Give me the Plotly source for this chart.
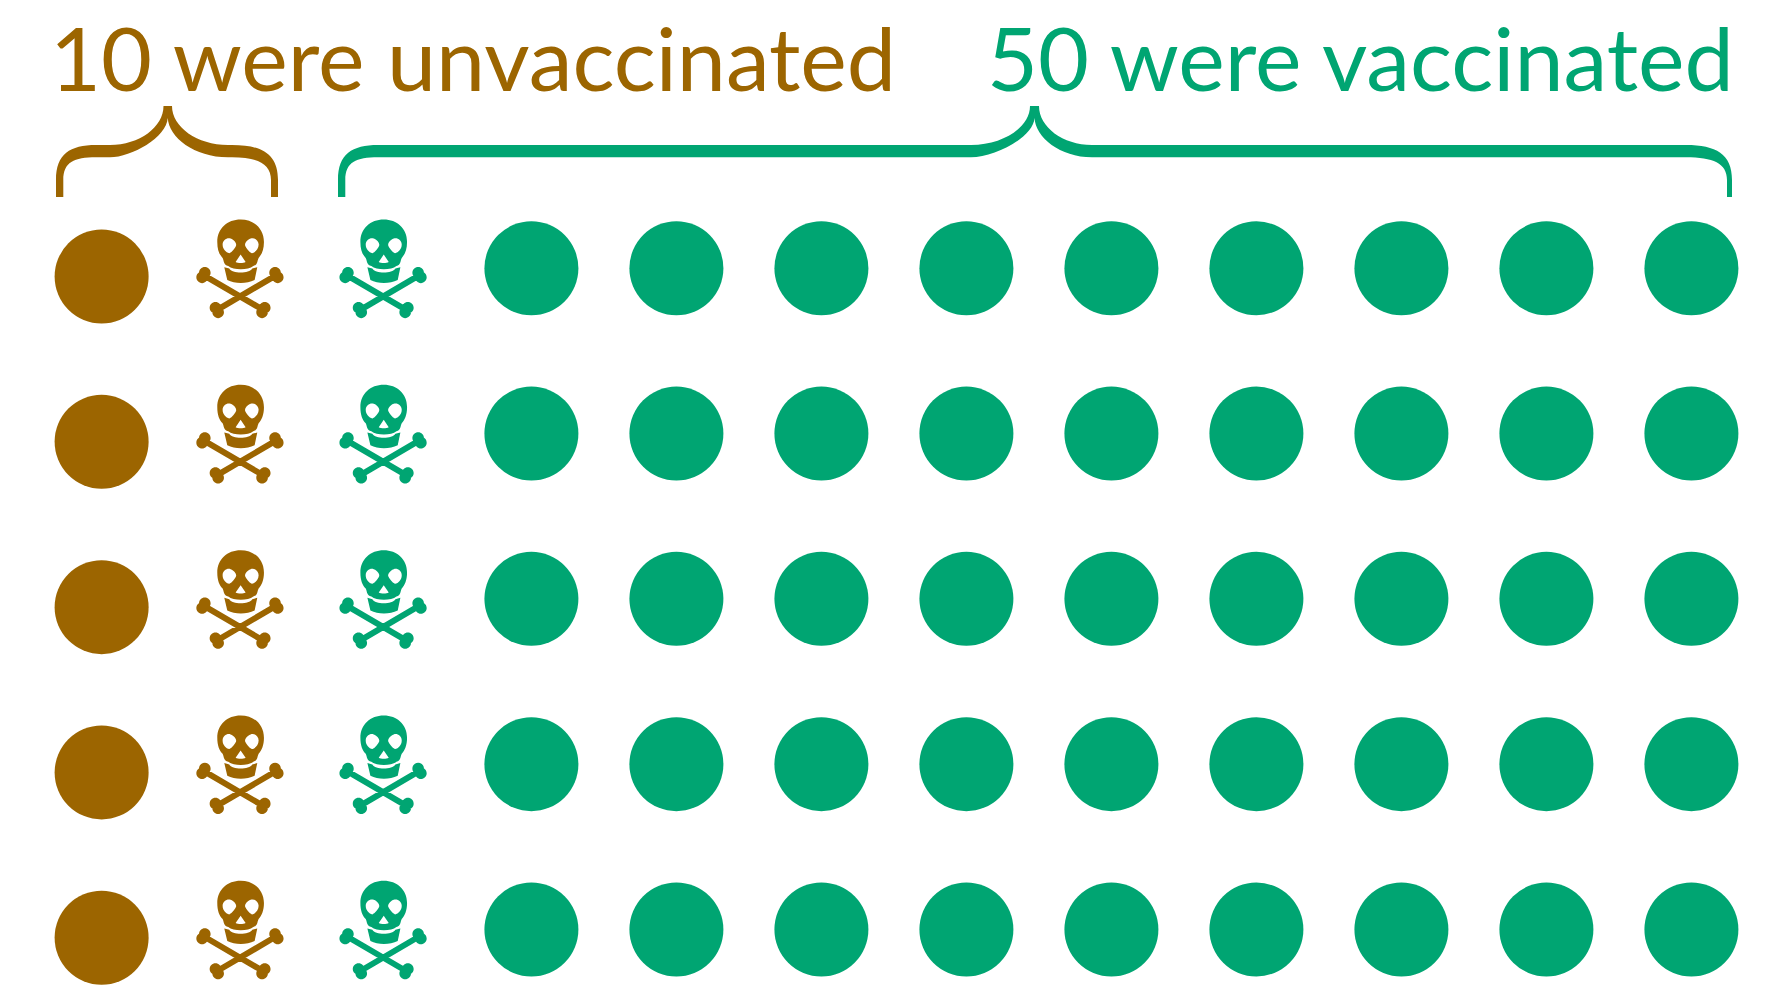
import re
import plotly.graph_objects as go

BROWN = "#9C6500"
GREEN = "#00A572"
W, H = 1790, 1006

rows = [0, 1, 2, 3, 4]
green_cols = [3, 4, 5, 6, 7, 8, 9, 10, 11]
brown_col = 0.036
brown_row_shift = 0.05
brown_skull_col = 0.99
green_skull_col = 1.977
skull_row_shift = 0.155
title_left = "10 were unvaccinated"
title_right = "50 were vaccinated"


def circle(cx, cy, r):
    k = 0.5523 * r
    return (f"M{cx+r:.2f},{cy:.2f} C{cx+r:.2f},{cy+k:.2f} {cx+k:.2f},{cy+r:.2f} {cx:.2f},{cy+r:.2f} "
            f"C{cx-k:.2f},{cy+r:.2f} {cx-r:.2f},{cy+k:.2f} {cx-r:.2f},{cy:.2f} "
            f"C{cx-r:.2f},{cy-k:.2f} {cx-k:.2f},{cy-r:.2f} {cx:.2f},{cy-r:.2f} "
            f"C{cx+k:.2f},{cy-r:.2f} {cx+r:.2f},{cy-k:.2f} {cx+r:.2f},{cy:.2f} Z ")


def zp(x, y):
    """zoomed glyph units to pixels relative to the crossing of the bones"""
    return (x - 180) / 3, (268 - y) / 3


def path(cmds):
    out = []
    for c in cmds:
        op, pts = c[0], c[1:]
        out.append(op + " ".join("%.2f,%.2f" % zp(*p) for p in pts))
    return " ".join(out) + " "


cranium = path([
    ("M", (182, 45)),
    ("C", (222, 45), (252, 72), (252, 112)),
    ("C", (252, 135), (245, 150), (236, 160)),
    ("C", (231, 170), (234, 180), (220, 184)),
    ("C", (205, 197), (160, 197), (145, 184)),
    ("C", (130, 180), (133, 170), (128, 160)),
    ("C", (118, 150), (112, 135), (112, 112)),
    ("C", (112, 72), (142, 45), (182, 45)),
    ("Z",),
])
left_eye = path([
    ("M", (128, 120)),
    ("C", (128, 106), (142, 98), (152, 102)),
    ("C", (164, 106), (171, 118), (168, 124)),
    ("C", (162, 136), (152, 145), (148, 146)),
    ("C", (138, 144), (128, 134), (128, 120)),
    ("Z",),
])
right_eye = path([
    ("M", (236, 120)),
    ("C", (236, 106), (222, 98), (212, 102)),
    ("C", (200, 106), (193, 118), (196, 124)),
    ("C", (202, 136), (212, 145), (216, 146)),
    ("C", (226, 144), (236, 134), (236, 120)),
    ("Z",),
])
nose = path([
    ("M", (182, 150)),
    ("L", (197, 172)),
    ("C", (190, 176), (174, 176), (167, 172)),
    ("Z",),
])
jaw = path([
    ("M", (133, 188)),
    ("L", (148, 192)),
    ("C", (156, 208), (208, 208), (217, 192)),
    ("L", (232, 188)),
    ("L", (224, 226)),
    ("C", (200, 238), (165, 238), (142, 226)),
    ("Z",),
])


def bone(x0, y0, x1, y1):
    hw = 9
    dx, dy = x1 - x0, y1 - y0
    n = (dx * dx + dy * dy) ** 0.5
    nx, ny = -dy / n * hw, dx / n * hw
    pts = [(x0 + nx, y0 + ny), (x1 + nx, y1 + ny), (x1 - nx, y1 - ny), (x0 - nx, y0 - ny)]
    area = sum(pts[i][0] * pts[(i + 1) % 4][1] - pts[(i + 1) % 4][0] * pts[i][1] for i in range(4))
    if area > 0:  # same turning direction as circle() once y is flipped by zp()
        pts = pts[::-1]
    s = path([("M", pts[0]), ("L", pts[1]), ("L", pts[2]), ("L", pts[3]), ("Z",)])
    ux, uy = dx / n, dy / n
    px, py = -uy, ux
    for (ex, ey, sgn) in ((x0, y0, 1), (x1, y1, -1)):
        for side in (-1, 1):
            lx = ex + sgn * ux * 3 + px * side * 8
            ly = ey + sgn * uy * 3 + py * side * 8
            cx, cy = zp(lx, ly)
            s += circle(cx, cy, 5.8)
    return s


bones = bone(68, 210, 253, 318) + bone(292, 210, 108, 318)


def skull_shapes(col, row, color):
    base = dict(type="path", xref="x", yref="y", xsizemode="pixel", ysizemode="pixel",
                xanchor=col, yanchor=row, fillcolor=color, line=dict(width=0), layer="above")
    return [
        dict(path=cranium + left_eye + right_eye + nose, fillrule="evenodd", **base),
        dict(path=jaw, **base),
        dict(path=bones, fillrule="nonzero", **base),
    ]


def brace(xl, wl, hl, t1, t2, hr, xr, wr, color):
    tm = (t1 + t2) / 2
    top, bot, ye, ytip = 145, 157.3, 197, 106
    P = [
        f"M{xl},{ye}", f"L{xl},{ye-17}",
        f"C{xl},{top+9} {xl+14},{top} {xl+40},{top}",
        f"L{hl},{top}",
        f"C{hl+(t1-hl)*0.55},{top} {t1},{top-18} {t1},{ytip}",
        f"L{t2},{ytip}",
        f"C{t2},{top-18} {hr-(hr-t2)*0.55},{top} {hr},{top}",
        f"L{xr+wr-46},{top}",
        f"C{xr+wr-16},{top} {xr+wr},{top+9} {xr+wr},{ye-17}",
        f"L{xr+wr},{ye}", f"L{xr},{ye}", f"L{xr},{ye-17}",
        f"C{xr},{bot+6} {xr-14},{bot} {xr+wr-46},{bot}",
        f"L{hr},{bot}",
        f"C{hr-(hr-t2)*0.6},{bot} {tm+1},{bot-20} {tm},118",
        f"C{tm-1},{bot-20} {hl+(t1-hl)*0.4},{bot} {hl},{bot}",
        f"L{xl+40},{bot}",
        f"C{xl+18},{bot} {xl+wl},{bot+5} {xl+wl},{ye-17}",
        f"L{xl+wl},{ye}", "Z",
    ]
    s = " ".join(P)
    def flip(m):
        return f"{float(m.group(1)):.2f},{-float(m.group(2)):.2f}"
    s = re.sub(r"(-?[\d.]+),(-?[\d.]+)", flip, s)
    return dict(type="path", xref="paper", yref="paper", xsizemode="pixel", ysizemode="pixel",
                xanchor=0, yanchor=1, path=s, fillcolor=color, line=dict(width=0), layer="above")


fig = go.Figure()
fig.add_trace(go.Scatter(
    x=[brown_col] * len(rows), y=[r + brown_row_shift for r in rows], mode="markers",
    marker=dict(size=94, color=BROWN, line=dict(width=0)), hoverinfo="skip", showlegend=False))
fig.add_trace(go.Scatter(
    x=[c for c in green_cols for r in rows], y=[r for c in green_cols for r in rows], mode="markers",
    marker=dict(size=94, color=GREEN, line=dict(width=0)), hoverinfo="skip", showlegend=False))

shapes = [
    brace(56, 7.3, 110, 163.5, 172, 228, 271, 7, BROWN),
    brace(338, 7.3, 971, 1030, 1039, 1092, 1727, 5, GREEN),
]
for r in rows:
    shapes += skull_shapes(brown_skull_col, r + skull_row_shift, BROWN)
    shapes += skull_shapes(green_skull_col, r + skull_row_shift, GREEN)

fig.update_layout(
    width=W, height=H, margin=dict(l=0, r=0, t=0, b=0),
    paper_bgcolor="white", plot_bgcolor="white", showlegend=False,
    xaxis=dict(range=[-0.6648, 11.68], visible=False, fixedrange=True),
    yaxis=dict(range=[4.463, -1.623], visible=False, fixedrange=True),
    shapes=shapes,
    annotations=[
        dict(text=title_left, xref="paper", yref="paper", x=48 / W, y=1 - 57 / H, xanchor="left",
             yanchor="middle", showarrow=False, font=dict(family="Lato", size=88, color=BROWN)),
        dict(text=title_right, xref="paper", yref="paper", x=985 / W, y=1 - 57 / H, xanchor="left",
             yanchor="middle", showarrow=False, font=dict(family="Lato", size=88, color=GREEN)),
    ],
)
fig.write_html("out.html", config=dict(displayModeBar=False),
               post_script="document.body.style.margin='0';")
